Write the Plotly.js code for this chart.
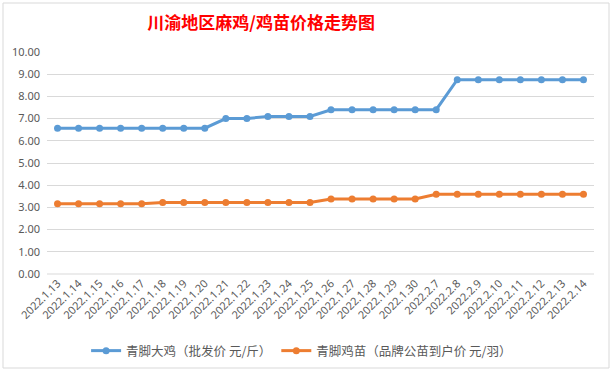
<!DOCTYPE html>
<html>
<head>
<meta charset="utf-8">
<script src="https://cdn.plot.ly/plotly-3.0.1.min.js"></script>
<style>html,body{margin:0;padding:0;background:#fff;}#chart{width:613px;height:372px;}</style>
</head>
<body>
<div id="chart"></div>
<script>
const dates = ["2022.1.13","2022.1.14","2022.1.15","2022.1.16","2022.1.17","2022.1.18","2022.1.19","2022.1.20","2022.1.21","2022.1.22","2022.1.23","2022.1.24","2022.1.25","2022.1.26","2022.1.27","2022.1.28","2022.1.29","2022.1.30","2022.2.7","2022.2.8","2022.2.9","2022.2.10","2022.2.11","2022.2.12","2022.2.13","2022.2.14"];
const chickenPrice = [6.57,6.57,6.57,6.57,6.57,6.57,6.57,6.57,7.0,7.0,7.1,7.1,7.1,7.4,7.4,7.4,7.4,7.4,7.4,8.75,8.75,8.75,8.75,8.75,8.75,8.75];
const chickPrice = [3.17,3.17,3.17,3.17,3.17,3.22,3.22,3.22,3.22,3.22,3.22,3.22,3.22,3.38,3.38,3.38,3.38,3.38,3.59,3.59,3.59,3.59,3.59,3.59,3.59,3.59];
const seriesNames = ["青脚大鸡（批发价 元/斤）","青脚鸡苗（品牌公苗到户价 元/羽）"];
const yTicks = [0,1,2,3,4,5,6,7,8,9,10];

const traces = [
  {x: dates, y: chickenPrice, name: seriesNames[0], type: "scatter", mode: "lines+markers",
   line: {color: "#5B9BD5", width: 3}, marker: {color: "#5B9BD5", size: 7}},
  {x: dates, y: chickPrice, name: seriesNames[1], type: "scatter", mode: "lines+markers",
   line: {color: "#ED7D31", width: 3}, marker: {color: "#ED7D31", size: 7}}
];

const layout = {
  width: 613, height: 372,
  margin: {l: 47, r: 19, t: 52, b: 98},
  paper_bgcolor: "#ffffff", plot_bgcolor: "#ffffff",
  font: {family: "Noto Sans CJK SC, sans-serif", color: "#595959"},
  title: {text: "<b>川渝地区麻鸡/鸡苗价格走势图</b>", font: {size: 17, color: "#FF0000", family: "Noto Sans CJK SC"},
          xref: "container", yref: "container", x: 0.426, y: 0.937, xanchor: "center", yanchor: "middle"},
  xaxis: {type: "category", range: [-0.5, 25.5], tickangle: -45, showgrid: false, zeroline: false,
          showline: false, ticks: "", tickfont: {size: 11, color: "#595959", family: "Noto Sans, sans-serif"}},
  yaxis: {range: [0, 10], tickvals: yTicks, tickformat: ".2f", showgrid: true, gridcolor: "#D9D9D9",
          gridwidth: 1, zeroline: false, showline: false, ticks: "", ticklabelstandoff: 6,
          tickfont: {size: 11, color: "#595959", family: "Noto Sans, sans-serif"}},
  showlegend: true,
  legend: {orientation: "h", xref: "container", yref: "container", x: 0.492, xanchor: "center",
           y: 1 - 351/372, yanchor: "middle", font: {size: 12.5, color: "#595959"}, itemwidth: 30,
           tracegroupgap: 0},
  shapes: [
    {type: "rect", xref: "paper", yref: "paper", x0: (3-47)/547, x1: (609-47)/547,
     y0: (274-368)/222, y1: (274-3)/222, line: {color: "#D9D9D9", width: 1}, layer: "below"},
    {type: "line", xref: "paper", yref: "paper", x0: 0, x1: 1, y0: 0, y1: 0, line: {color: "#D9D9D9", width: 1}}
  ]
};

Plotly.newPlot("chart", traces, layout, {displayModeBar: false, staticPlot: true});
</script>
</body>
</html>
